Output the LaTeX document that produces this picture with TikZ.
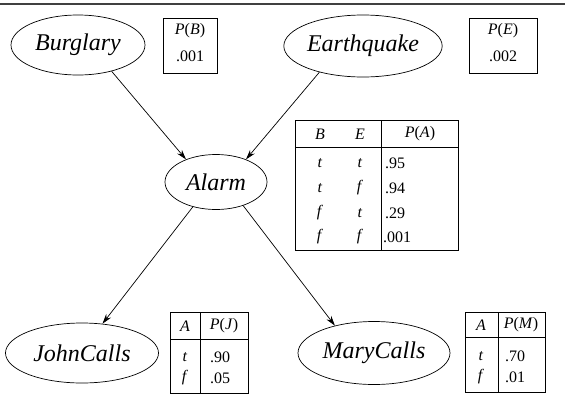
\documentclass[tikz,border=0pt]{standalone}
\usepackage{fontspec}
\setmainfont{Liberation Serif}
\usepackage{tikz}
\usetikzlibrary{shapes,arrows,arrows.meta}
\tikzstyle{var} = [ellipse, draw, line width=0.7pt, inner sep=0pt,
	font=\fontsize{24}{28}\selectfont\itshape]
\tikzstyle{cpt} = [draw, line width=1pt, inner sep=0pt]
\tikzstyle{entry} = [inner sep=0pt, font=\fontsize{16}{19}\selectfont]
\tikzstyle{link} = [-{Stealth[length=10pt,width=6pt]}, line width=0.7pt]

\begin{document}
\begin{tikzpicture}[x=1pt,y=-1pt]
	\useasboundingbox (0,0) rectangle (565,407);
	\draw[line width=2pt, black!75] (0,4) -- (565,4);     % top rule

	% variables
	\node[var, minimum width=134pt, minimum height=60pt] (burglary) at (78,45) {Burglary};
	\node[var, minimum width=150pt, minimum height=62pt] (earthquake) at (363,46) {Earthquake};
	\node[var, minimum width=102pt, minimum height=55pt] (alarm) at (216,182) {Alarm};
	\node[var, minimum width=153pt, minimum height=60pt] (john) at (82,353) {JohnCalls};
	\node[var, minimum width=152pt, minimum height=63pt] (mary) at (374,353) {MaryCalls};

	\draw[link] (burglary.-38) -- (alarm.143);
	\draw[link] (earthquake.211) -- (alarm.37);
	\draw[link] (alarm.227) -- (john.55);
	\draw[link] (alarm.-41) -- (mary.145);

	% P(B)
	\begin{scope}[shift={(163,18)}]
	\node[cpt, minimum width=54pt, minimum height=55pt] (pbbox) at (27,27.5) {};
	\node[entry] (pbhead) at (27,13) {\textit{P}(\textit{B})};
	\node[entry] (pbval) at (27,38) {.001};
	\end{scope}

	% P(E)
	\begin{scope}[shift={(469,18)}]
	\node[cpt, minimum width=68pt, minimum height=55pt] (pebox) at (34,27.5) {};
	\node[entry] (pehead) at (34,13) {\textit{P}(\textit{E})};
	\node[entry] (peval) at (34,38) {.002};
	\end{scope}

	% P(A|B,E)
	\begin{scope}[shift={(295,120)}]
	\node[cpt, minimum width=163pt, minimum height=130pt] (pabox) at (81.5,65) {};
	\draw[line width=1pt] (0,27) -- (163,27);
	\draw[line width=1pt] (86,0) -- (86,130);
	\node[entry] (pab) at (25,14) {\textit{B}};
	\node[entry] (pae) at (65,14) {\textit{E}};
	\node[entry] (pahead) at (125,14) {\textit{P}(\textit{A})};
	\node[entry] (pab1) at (25,43) {\textit{t}};
	\node[entry] (pae1) at (65,43) {\textit{t}};
	\node[entry, anchor=west] (pa1) at (90,43) {.95};
	\node[entry] (pab2) at (25,68) {\textit{t}};
	\node[entry] (pae2) at (65,68) {\textit{f}};
	\node[entry, anchor=west] (pa2) at (90,68) {.94};
	\node[entry] (pab3) at (25,93) {\textit{f}};
	\node[entry] (pae3) at (65,93) {\textit{t}};
	\node[entry, anchor=west] (pa3) at (90,93) {.29};
	\node[entry] (pab4) at (25,117) {\textit{f}};
	\node[entry] (pae4) at (65,117) {\textit{f}};
	\node[entry, anchor=west] (pa4) at (88,117) {.001};
	\end{scope}

	% P(J|A)
	\begin{scope}[shift={(170,312)}]
	\node[cpt, minimum width=78pt, minimum height=81pt] (pjbox) at (39,40.5) {};
	\draw[line width=1pt] (0,27) -- (78,27);
	\draw[line width=1pt] (30,0) -- (30,81);
	\node[entry] (pja) at (15,14) {\textit{A}};
	\node[entry] (pjhead) at (54,14) {\textit{P}(\textit{J})};
	\node[entry] (pjt) at (15,45) {\textit{t}};
	\node[entry, anchor=west] (pj1) at (40,45) {.90};
	\node[entry] (pjf) at (15,66) {\textit{f}};
	\node[entry, anchor=west] (pj2) at (40,66) {.05};
	\end{scope}

	% P(M|A)
	\begin{scope}[shift={(465,312)}]
	\node[cpt, minimum width=80pt, minimum height=80pt] (pmbox) at (40,40) {};
	\draw[line width=1pt] (0,25) -- (80,25);
	\draw[line width=1pt] (33,0) -- (33,80);
	\node[entry] (pma) at (16,13) {\textit{A}};
	\node[entry] (pmhead) at (56,13) {\textit{P}(\textit{M})};
	\node[entry] (pmt) at (16,44) {\textit{t}};
	\node[entry, anchor=west] (pm1) at (40,44) {.70};
	\node[entry] (pmf) at (16,65) {\textit{f}};
	\node[entry, anchor=west] (pm2) at (40,65) {.01};
	\end{scope}
\end{tikzpicture}
\end{document}
